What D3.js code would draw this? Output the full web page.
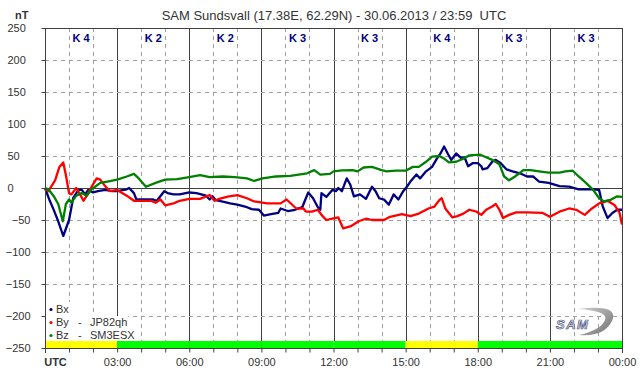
<!DOCTYPE html>
<html><head><meta charset="utf-8">
<script src="https://cdn.jsdelivr.net/npm/d3@7"></script>
<style>
html,body{margin:0;padding:0;background:#fff;}
svg{display:block;font-family:"Liberation Sans",Arial,sans-serif;}
text{white-space:pre;}
</style></head>
<body><svg id="chart" width="642" height="376"></svg>
<script>
// ---- data ----
const title = "SAM Sundsvall (17.38E, 62.29N) - 30.06.2013 / 23:59  UTC";
const kValues = [4, 2, 2, 3, 3, 4, 3, 3];          // K index per 3-hour block
const yTicks = [-250,-200,-150,-100,-50,0,50,100,150,200,250];
const xTickLabels = ["UTC","03:00","06:00","09:00","12:00","15:00","18:00","21:00","00:00"];

const bxHours = [0,0.2,0.35,0.55,0.76,1.0,1.17,1.39,1.53,1.67,1.8,2.0,2.2,2.5,2.8,3.0,3.4,3.5,3.7,3.8,4.1,4.5,4.65,4.96,5.1,5.35,5.6,6.0,6.3,6.7,6.85,6.97,7.1,7.35,7.7,8.0,8.4,8.6,8.9,9.1,9.4,9.7,9.8,10.1,10.4,10.7,10.85,10.95,11.15,11.35,11.45,11.5,11.7,11.95,12.1,12.2,12.35,12.55,12.7,12.85,13.1,13.35,13.6,13.75,13.9,14.1,14.3,14.5,14.7,14.9,15.05,15.2,15.45,15.6,15.85,16.1,16.3,16.45,16.6,16.75,16.9,17.1,17.3,17.45,17.6,17.8,18.0,18.15,18.2,18.4,18.6,18.75,18.95,19.2,19.45,19.75,20.05,20.3,20.55,20.95,21.4,21.8,22.2,22.8,23.05,23.2,23.4,23.6,23.8,24];
const bxValues = [0,-20,-33,-52,-75,-50,-16,-3,-3,-10,-3,-7,-5,-3,-5,-5,-2,0,-8,-18,-18,-18,-20,-5,-8,-10,-10,-7,-8,-12,-18,-13,-19,-21,-24,-26,-30,-33,-34,-43,-41,-39,-32,-36,-34,-30,-16,-7,-16,-30,-34,-8,-14,-3,-5,0,-5,15,5,-13,-10,-17,2,-5,-16,-18,-26,-10,-18,-5,2,10,21,15,26,33,46,54,65,54,44,54,47,48,34,39,39,34,29,31,41,44,39,29,26,23,18,18,10,8,3,2,-2,-2,-3,-29,-47,-39,-34,-34];

const byHours = [0,0.14,0.42,0.6,0.76,0.87,1.0,1.1,1.3,1.46,1.6,1.74,1.94,2.15,2.3,2.5,2.7,3.0,3.4,3.7,3.96,4.4,4.6,4.8,5.0,5.35,5.6,6.0,6.45,6.85,7.05,7.25,7.6,8.0,8.4,8.7,9.25,9.8,10.05,10.25,10.45,10.75,10.85,11.1,11.35,11.5,11.7,11.95,12.2,12.4,12.7,13.05,13.35,13.6,14.1,14.35,14.85,15.2,15.55,15.95,16.2,16.4,16.5,16.65,16.95,17.15,17.4,17.65,17.95,18.15,18.35,18.6,18.75,18.9,19.05,19.3,19.6,20.05,20.7,21.0,21.4,21.8,22.1,22.45,22.75,23.05,23.4,23.7,23.9,24];
const byValues = [0,-5,12,33,40,20,-8,-10,0,-10,-20,-12,2,15,13,3,-5,-3,-12,-20,-20,-20,-23,-18,-27,-24,-20,-17,-17,-11,-20,-17,-13.5,-11,-16,-21,-24,-24,-18,-25,-32,-32,-37,-37,-34,-42,-50,-48,-46,-63,-60,-52,-48,-50,-50,-45,-41,-44,-40,-32,-29,-19,-16,-32,-46,-44,-40,-34,-37,-42,-34,-29,-25,-34,-47,-42,-38,-38,-39,-45,-37,-32,-34,-42,-32,-24,-20,-27,-39,-57];

const bzHours = [0,0.14,0.35,0.55,0.74,0.87,1.0,1.1,1.3,1.53,1.74,1.94,2.3,2.6,3.0,3.4,3.7,3.9,4.2,4.6,5.0,5.5,6.0,6.45,6.85,7.4,7.9,8.4,8.7,9.05,9.6,10.2,10.9,11.2,11.45,11.85,12.0,12.35,12.8,13.0,13.25,13.6,14.0,14.2,14.6,15.0,15.3,15.55,15.85,16.1,16.4,16.6,16.8,17.1,17.35,17.65,18.1,18.35,18.6,18.9,19.1,19.3,19.55,19.9,20.2,20.55,20.95,21.4,21.65,21.95,22.2,22.5,22.8,23.05,23.25,23.55,23.8,24];
const bzValues = [0,-2,-12,-25,-52,-25,-18,-23,-12,-8,-12,-2,8,10,13,18,22,15,2,8,13,14,17,20,17,18,17,15,11,15,18,19,23,28,21,22,26,27.5,28,26,32,33,28,26,27,27,33,33,41,49,50,46,40,41,45,51,52,48,44,37,18,12,18,28,28,26,24,24,26,27,18,8,-3,-16,-21,-18,-13,-14];

const seriesNames = ["Bx","By","Bz"];
const seriesColors = ["#000080","#ff0000","#008000"];
const legendStations = ["","JP82qh","SM3ESX"];

// ---- layout ----
const svg = d3.select("#chart");
const L = 45, R = 622, T = 28, B = 348;
const x = d3.scaleLinear().domain([0,24]).range([L,R]);
const y = d3.scaleLinear().domain([-250,250]).range([B,T]);
const frame = "#404040", grid = "#a0a0a0", txt = "#333";

svg.append("rect").attr("width",642).attr("height",376).attr("fill","#fff");

// title
svg.append("text").attr("x",334).attr("y",20).attr("text-anchor","middle")
  .attr("font-size",13).attr("fill",txt).text(title);
svg.append("text").attr("x",15).attr("y",19).attr("font-size",11).attr("font-weight","bold")
  .attr("fill",txt).text("nT");

const hours = d3.range(0,25);
// vertical grid
svg.append("g").selectAll("line").data(hours.filter(h=>h>0&&h<24)).join("line")
  .attr("x1",d=>Math.round(x(d))+0.5).attr("x2",d=>Math.round(x(d))+0.5)
  .attr("y1",T).attr("y2",B)
  .attr("stroke",d=>d%3===0?frame:grid)
  .attr("stroke-dasharray",d=>d%3===0?null:"4,4");
// horizontal grid
svg.append("g").selectAll("line").data(yTicks.filter(v=>v>-250&&v<250)).join("line")
  .attr("x1",L).attr("x2",R)
  .attr("y1",d=>Math.round(y(d))+0.5).attr("y2",d=>Math.round(y(d))+0.5)
  .attr("stroke",d=>d===0?frame:grid)
  .attr("stroke-dasharray",d=>d===0?null:"4,4");

// K labels
svg.append("g").selectAll("text").data(kValues).join("text")
  .attr("x",(d,i)=>x(i*3+1.5)).attr("y",42).attr("text-anchor","middle")
  .attr("font-size",11).attr("font-weight","bold").attr("fill","#000080")
  .text(d=>"K " + d);

// legend backgrounds (hide grid behind legend)
svg.append("rect").attr("x",46).attr("y",302).attr("width",28).attr("height",14).attr("fill","#fff");
svg.append("rect").attr("x",46).attr("y",316).attr("width",82).attr("height",25).attr("fill","#fff");

// status bar
svg.append("g").selectAll("rect").data(kValues).join("rect")
  .attr("x",(d,i)=>x(i*3)).attr("width",(d,i)=>x(i*3+3)-x(i*3))
  .attr("y",341).attr("height",B-341)
  .attr("fill",d=>d>=4?"#ffff00":"#00ff00");

// series lines
const line = d3.line().x(d=>x(d[0])).y(d=>y(d[1]));
const seriesData = [
  d3.zip(bxHours,bxValues),
  d3.zip(byHours,byValues),
  d3.zip(bzHours,bzValues)
];
svg.append("g").selectAll("path").data(seriesData).join("path")
  .attr("d",line).attr("fill","none")
  .attr("stroke",(d,i)=>seriesColors[i]).attr("stroke-width",2.3)
  .attr("stroke-linejoin","round");

// frame
const fr = svg.append("g").attr("stroke",frame).attr("shape-rendering","crispEdges");
fr.append("line").attr("x1",L-3).attr("x2",R+0.5).attr("y1",T+0.5).attr("y2",T+0.5);
fr.append("line").attr("x1",L-3).attr("x2",R+0.5).attr("y1",B+0.5).attr("y2",B+0.5);
fr.append("line").attr("x1",L+0.5).attr("x2",L+0.5).attr("y1",T).attr("y2",B+5);
fr.append("line").attr("x1",R+0.5).attr("x2",R+0.5).attr("y1",T).attr("y2",B+5);

// axes
const yAxis = svg.append("g").attr("transform",`translate(${L+0.5},0)`)
  .call(d3.axisLeft(y).tickValues(yTicks).tickSize(4).tickFormat(d3.format("d")));
yAxis.select(".domain").remove();
yAxis.selectAll("line").attr("stroke",frame);
yAxis.selectAll("text").attr("font-size",11).attr("fill",txt)
  .attr("font-family","Liberation Sans, Arial, sans-serif")
  .attr("text-anchor",d=>d<0?"end":"start")
  .attr("x",d=>d<0?-(L-30):-(L-7));

const xAxis = svg.append("g").attr("transform",`translate(0,${B+0.5})`)
  .call(d3.axisBottom(x).tickValues(hours).tickSize(4)
    .tickFormat(d=>d%3===0?xTickLabels[d/3]:""));
xAxis.select(".domain").remove();
xAxis.selectAll("line").attr("stroke",frame);
xAxis.selectAll("text").attr("font-size",11).attr("fill",txt).attr("dy","0.95em")
  .attr("font-family","Liberation Sans, Arial, sans-serif")
  .attr("font-weight",d=>d===0?"bold":null)
  .attr("x",d=>d===0?10:0);

// legend
const lg = svg.append("g");
seriesNames.forEach((n,i)=>{
  const yy = 313 + i*13;
  lg.append("circle").attr("cx",51).attr("cy",yy-3.5).attr("r",1.6).attr("fill",seriesColors[i]);
  lg.append("text").attr("x",56).attr("y",yy).attr("font-size",11).attr("fill",txt).text(n);
  if (legendStations[i]) {
    lg.append("text").attr("x",78).attr("y",yy).attr("font-size",11).attr("fill",txt).text("-");
    lg.append("text").attr("x",90).attr("y",yy).attr("font-size",11).attr("fill",txt).text(legendStations[i]);
  }
});

// SAM logo
const defs = svg.append("defs");
const gr = defs.append("linearGradient").attr("id","sw").attr("x1","0").attr("y1","0").attr("x2","1").attr("y2","1");
gr.append("stop").attr("offset","0").attr("stop-color","#d0d0d0");
gr.append("stop").attr("offset","1").attr("stop-color","#707070");
svg.append("path")
  .attr("d","M578,309 Q620,304 612,321 Q604,337 579,335 Q601,330 605,320 Q609,311 578,309 Z")
  .attr("fill","url(#sw)");
svg.append("text").attr("x",556).attr("y",329).attr("font-size",13).attr("font-weight","bold")
  .attr("font-style","italic").attr("letter-spacing",1.5)
  .attr("fill","#e4e6ee").attr("stroke","#4a5784").attr("stroke-width",0.7)
  .text("SAM");
</script></body></html>
